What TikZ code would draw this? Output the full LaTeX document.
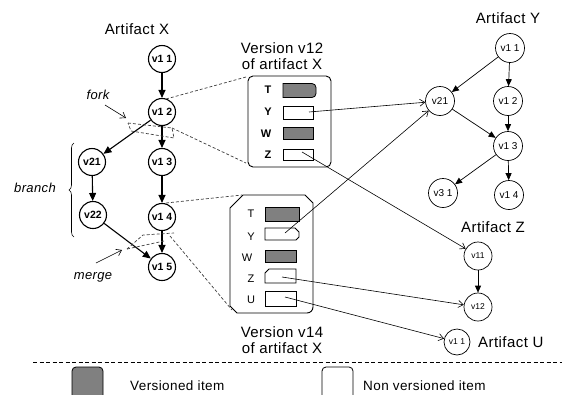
\documentclass[tikz,border=0pt]{standalone}
\usepackage{fontspec}
\setmainfont{Liberation Sans}
\newfontfamily\spaced[LetterSpace=3]{Liberation Sans}
\usetikzlibrary{arrows.meta,decorations.pathreplacing}
\definecolor{vgray}{RGB}{128,128,128}
\begin{document}
\begin{tikzpicture}[x=1pt,y=-1pt,
  xv/.style={circle,draw,line width=1.1pt,minimum size=27pt,inner sep=0pt,font=\fontsize{10.5}{12}\selectfont\bfseries},
  yv/.style={circle,draw,line width=0.7pt,minimum size=29pt,inner sep=0pt,font=\fontsize{10}{12}\selectfont},
  zv/.style={circle,draw,line width=0.7pt,minimum size=28pt,inner sep=0pt,font=\fontsize{8.5}{10}\selectfont},
  ver/.style={line width=1.1pt,-{Triangle[length=8pt,width=7pt]}},
  yver/.style={line width=0.7pt,-{Triangle[length=7pt,width=6pt]}},
  link/.style={line width=0.6pt,-{Straight Barb[length=5pt,width=7pt]}},
  mag/.style={line width=0.7pt,dash pattern=on 3pt off 2pt,black!75},
  lbl/.style={font=\spaced\fontsize{15}{17}\selectfont,inner sep=0pt},
  ital/.style={font=\spaced\fontsize{13}{15}\selectfont\itshape,inner sep=0pt},
  leg/.style={font=\spaced\fontsize{13.5}{15}\selectfont,anchor=west,inner sep=0pt},
  itm/.style={draw,line width=0.8pt,inner sep=0pt},
  vitm/.style={itm,fill=vgray},
  letA/.style={font=\fontsize{11}{13}\selectfont\bfseries,inner sep=0pt},
  letB/.style={font=\fontsize{11}{13}\selectfont,inner sep=0pt}
]
\useasboundingbox (0,0) rectangle (562,394);

% ---- Artifact X ----
\node[lbl] (tX) at (137,29) {Artifact X};
\node[xv] (x11) at (162,59) {v1 1};
\node[xv] (x12) at (162,112) {v1 2};
\node[xv] (x13) at (162,162) {v1 3};
\node[xv] (x14) at (162,217) {v1 4};
\node[xv] (x15) at (162,267) {v1 5};
\node[xv] (x21) at (92,162) {v21};
\node[xv] (x22) at (93,215) {v22};
\draw[ver] (x11) -- (x12);
\draw[ver] (x12) -- (x13);
\draw[ver] (x13) -- (x14);
\draw[ver] (x14) -- (x15);
\draw[ver] (x12) -- (x21);
\draw[ver] (x21) -- (x22);
\draw[ver] (x22) -- (x15);

% fork / branch / merge
\node[ital] (fork) at (98,95) {fork};
\coordinate (forkE) at (126,118);
\draw[link] (105,105) -- (forkE);
\node[ital] (branch) at (35,188) {branch};
\draw[line width=0.6pt,decorate,decoration={brace,amplitude=5pt}] (74,237) -- (74,143);
\node[ital] (merge) at (93,277) {merge};
\coordinate (mergeS) at (96,263);
\coordinate (mergeE) at (122,250);
\draw[link] (mergeS) -- (mergeE);

% ---- Box v12 ----
\node[lbl,align=center] (capA) at (282,56) {Version v12\\[-1pt]of artifact X};
\node[draw,line width=0.9pt,rounded corners=5pt,minimum width=83pt,minimum height=91pt,inner sep=0pt] (bA) at (289.5,121.5) {};
\node[letA] (aTl) at (268,90) {T};
\node[letA] (aYl) at (268,112) {Y};
\node[letA] (aWl) at (266,134) {W};
\node[letA] (aZl) at (268,155) {Z};
\draw[itm,fill=vgray] (283,97.5) -- (283,83.5) [rounded corners=4pt] -- (316,83.5) -- (316,97.5) [sharp corners] -- cycle;
\node[itm,minimum width=30pt,minimum height=13pt] (aY) at (298,112.5) {};
\node[vitm,minimum width=30pt,minimum height=12pt] (aW) at (298,133) {};
\node[itm,minimum width=30pt,minimum height=11pt] (aZ) at (298,154.5) {};

% magnifier v12
\draw[mag] (166,99) -- (246,77);
\draw[mag] (128,123) -- (172,128) -- (174,138) -- (131,131) -- cycle;
\draw[mag] (172,128) -- (246,163);

% ---- Box v14 ----
\node[lbl,align=center] (capB) at (282,340) {Version v14\\[-1pt]of artifact X};
\draw[line width=0.9pt] (230,208) -- (243,195) -- (305,195) -- (313,203) [rounded corners=6pt] -- (313,313) [sharp corners] -- (237,313) -- (230,306) -- cycle;
\node[letB] (bTl) at (251,214) {T};
\node[letB] (bYl) at (251,237) {Y};
\node[letB] (bWl) at (247,258) {W};
\node[letB] (bZl) at (251,279) {Z};
\node[letB] (bUl) at (251,300) {U};
\node[vitm,minimum width=34pt,minimum height=14pt] (bT) at (282,214) {};
\draw[itm] (265,228) -- (295,228) -- (299,232) -- (299,237) -- (296,240) -- (265,240) -- cycle;
\node[vitm,minimum width=31pt,minimum height=12pt] (bW) at (280.5,256) {};
\draw[itm] (265,283) -- (265,273) -- (269,269) -- (296,269) -- (296,283) -- cycle;
\node[itm,minimum width=31pt,minimum height=15pt] (bU) at (280.5,298.5) {};

% magnifier v14
\draw[mag] (166,203) -- (242,195);
\draw[mag] (127,249) -- (143,235) -- (174,233);
\draw[mag] (127,249) -- (164,241);
\draw[mag] (170,236) -- (232,310);

% ---- Artifact Y ----
\node[lbl] (tY) at (508,18) {Artifact Y};
\node[yv] (y11) at (510,48) {v1 1};
\node[yv] (y12) at (508,101) {v1 2};
\node[yv] (y21) at (440,101) {v21};
\node[yv] (y13) at (508,146) {v1 3};
\node[yv] (y31) at (443,193) {v3 1};
\node[yv] (y14) at (509,195) {v1 4};
\draw[yver] (y11) -- (y21);
\draw[yver] (y11) -- (y12);
\draw[yver] (y12) -- (y13);
\draw[yver] (y21) -- (y13);
\draw[yver] (y13) -- (y31);
\draw[yver] (y13) -- (y14);

% ---- Artifact Z / U ----
\node[lbl] (tZ) at (493,227) {Artifact Z};
\node[zv] (z11) at (478,256) {v11};
\node[zv] (z12) at (478,307) {v12};
\draw[yver] (z11) -- (z12);
\node[zv,minimum size=26pt] (u11) at (457,342) {v1 1};
\node[lbl,anchor=west] (tU) at (478,342) {Artifact U};

% ---- links ----
\coordinate (aYs) at (309,112);
\coordinate (aZs) at (302,152);
\coordinate (bYs) at (285,233);
\coordinate (bZs) at (282,277);
\coordinate (bUs) at (285,297);
\draw[link] (aYs) -- (y21);
\draw[link] (aZs) -- (z11);
\draw[link] (bYs) -- (y21);
\draw[link] (bZs) -- (z12);
\draw[link] (bUs) -- (u11);

% ---- legend ----
\draw[line width=0.6pt,dash pattern=on 4pt off 2.5pt] (33,362) -- (562,362);
\draw[line width=0.8pt,fill=vgray,rounded corners=4pt] (72,401) -- (72,367) -- (103,367) -- (103,401);
\node[leg] (legV) at (130,386) {Versioned item};
\draw[line width=0.8pt,rounded corners=4pt] (322,401) -- (322,367) -- (353,367) -- (353,401);
\node[leg] (legN) at (363,386) {Non versioned item};
\end{tikzpicture}
\end{document}
